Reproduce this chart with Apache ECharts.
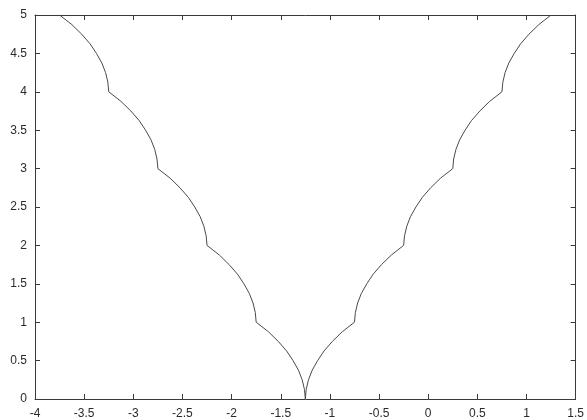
<!DOCTYPE html>
<html>
<head>
<meta charset="utf-8">
<script src="https://cdn.jsdelivr.net/npm/echarts@6/dist/echarts.min.js"></script>
<style>html,body{margin:0;padding:0;background:#fff;}#c{width:587px;height:420px;}</style>
</head>
<body>
<div id="c"></div>
<script>
// y samples (shared by both branches)
var yVals = [0, 0.125, 0.25, 0.375, 0.5, 0.625, 0.75, 0.875,
  1, 1.125, 1.25, 1.375, 1.5, 1.625, 1.75, 1.875,
  2, 2.125, 2.25, 2.375, 2.5, 2.625, 2.75, 2.875,
  3, 3.125, 3.25, 3.375, 3.5, 3.625, 3.75, 3.875,
  4, 4.125, 4.25, 4.375, 4.5, 4.625, 4.75, 4.875, 5];
// left branch x values
var leftX = [-1.25, -1.259, -1.282, -1.32, -1.375, -1.44, -1.525, -1.625,
  -1.75, -1.759, -1.782, -1.82, -1.875, -1.94, -2.025, -2.125,
  -2.25, -2.259, -2.282, -2.32, -2.375, -2.44, -2.525, -2.625,
  -2.75, -2.759, -2.782, -2.82, -2.875, -2.94, -3.025, -3.125,
  -3.25, -3.259, -3.282, -3.32, -3.375, -3.44, -3.525, -3.625, -3.75];
// right branch x values
var rightX = [-1.25, -1.241, -1.218, -1.18, -1.125, -1.06, -0.975, -0.875,
  -0.75, -0.741, -0.718, -0.68, -0.625, -0.56, -0.475, -0.375,
  -0.25, -0.241, -0.218, -0.18, -0.125, -0.06, 0.025, 0.125,
  0.25, 0.259, 0.282, 0.32, 0.375, 0.44, 0.525, 0.625,
  0.75, 0.759, 0.782, 0.82, 0.875, 0.94, 1.025, 1.125, 1.25];

var leftData = leftX.map(function (x, i) { return [x, yVals[i]]; });
var rightData = rightX.map(function (x, i) { return [x, yVals[i]]; });

var chart = echarts.init(document.getElementById('c'));
var axisCol = '#3a3a3a';
var labelStyle = { color: '#2a2a2a', fontFamily: 'Liberation Sans, Arial, sans-serif', fontSize: 12 };
chart.setOption({
  animation: false,
  backgroundColor: '#fff',
  grid: { left: 35, right: 5, top: 15, bottom: 17, containLabel: false },
  xAxis: [{
    type: 'value', min: -4, max: 1.5, interval: 0.5, position: 'bottom',
    axisLine: { show: true, onZero: false, lineStyle: { color: axisCol, width: 1 } },
    axisTick: { show: true, inside: true, length: 5, lineStyle: { color: axisCol } },
    axisLabel: Object.assign({ margin: 9 }, labelStyle),
    splitLine: { show: false }
  }, {
    type: 'value', min: -4, max: 1.5, interval: 0.5, position: 'top',
    axisLine: { show: true, onZero: false, lineStyle: { color: axisCol, width: 1 } },
    axisTick: { show: true, inside: true, length: 5, lineStyle: { color: axisCol } },
    axisLabel: { show: false }, splitLine: { show: false }
  }],
  yAxis: [{
    type: 'value', min: 0, max: 5, interval: 0.5, position: 'left',
    axisLine: { show: true, onZero: false, lineStyle: { color: axisCol, width: 1 } },
    axisTick: { show: true, inside: true, length: 5, lineStyle: { color: axisCol } },
    axisLabel: Object.assign({ margin: 8 }, labelStyle),
    splitLine: { show: false }
  }, {
    type: 'value', min: 0, max: 5, interval: 0.5, position: 'right',
    axisLine: { show: true, onZero: false, lineStyle: { color: axisCol, width: 1 } },
    axisTick: { show: true, inside: true, length: 5, lineStyle: { color: axisCol } },
    axisLabel: { show: false }, splitLine: { show: false }
  }],
  series: [{
    type: 'line', data: leftData, showSymbol: false, smooth: false,
    lineStyle: { color: '#4a4a4a', width: 1 }, clip: true
  }, {
    type: 'line', data: rightData, showSymbol: false, smooth: false,
    lineStyle: { color: '#4a4a4a', width: 1 }, clip: true
  }]
});
</script>
</body>
</html>
